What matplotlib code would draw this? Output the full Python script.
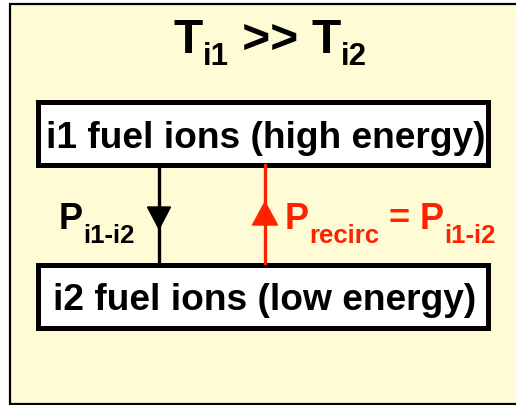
import matplotlib as mpl
mpl.use('Agg')
import matplotlib.pyplot as plt
from matplotlib.patches import Rectangle, FancyArrow

plt.rcParams['font.family'] = ['Liberation Sans', 'DejaVu Sans']
plt.rcParams['font.weight'] = 'bold'

# text pieces: (string, is_subscript)
title_parts = [('T', False), ('i1', True), (' >> ', False), ('T', False), ('i2', True)]
box_labels = ['i1 fuel ions (high energy)', 'i2 fuel ions (low energy)']
flow_parts = [('P', False), ('i1-i2', True)]
recirc_parts = [('P', False), ('recirc', True), (' = ', False), ('P', False), ('i1-i2', True)]

bg = '#fffcd5'
red = '#ff2200'

W, H = 516, 406
fig = plt.figure(figsize=(W / 100, H / 100), dpi=100)
ax = fig.add_axes([0, 0, 1, 1])
ax.set_xlim(0, W)
ax.set_ylim(H, 0)
ax.axis('off')
fig.canvas.draw()
renderer = fig.canvas.get_renderer()


def draw_parts(x, y, parts, size, subsize, shift, color):
    for s, sub in parts:
        t = ax.text(x, y + (shift if sub else 0), s, fontsize=subsize if sub else size,
                    fontweight='bold', color=color, ha='left', va='baseline')
        x += t.get_window_extent(renderer).width


# outer panel
ax.add_patch(Rectangle((10, 5), 520, 400, facecolor=bg, edgecolor='black', lw=1.6))

# title
draw_parts(174, 53, title_parts, 34.5, 22.5, 12, 'black')

# boxes
ax.add_patch(Rectangle((37.5, 102.5), 450, 63, facecolor='white', edgecolor='black', lw=3.6))
ax.add_patch(Rectangle((37.5, 265.5), 450, 63, facecolor='white', edgecolor='black', lw=3.6))
ax.text(265.5, 148, box_labels[0], fontsize=26.7, fontweight='bold', ha='center', va='baseline')
ax.text(265, 310, box_labels[1], fontsize=26.7, fontweight='bold', ha='center', va='baseline')

# downward black arrow
ax.plot([159, 159], [166, 264], color='black', lw=2.4)
ax.add_patch(FancyArrow(159, 208, 0, 22, width=0, head_width=23, head_length=22,
                        length_includes_head=True, color='black'))

# upward red arrow
ax.plot([265, 265], [166, 264], color=red, lw=2.4)
ax.add_patch(FancyArrow(265, 226, 0, -23, width=0, head_width=25, head_length=23,
                        length_includes_head=True, color=red))

draw_parts(59, 229, flow_parts, 26, 18.5, 14, 'black')
draw_parts(285, 229, recirc_parts, 26, 18.5, 14, red)

fig.savefig('out.png', dpi=100, facecolor='white')
